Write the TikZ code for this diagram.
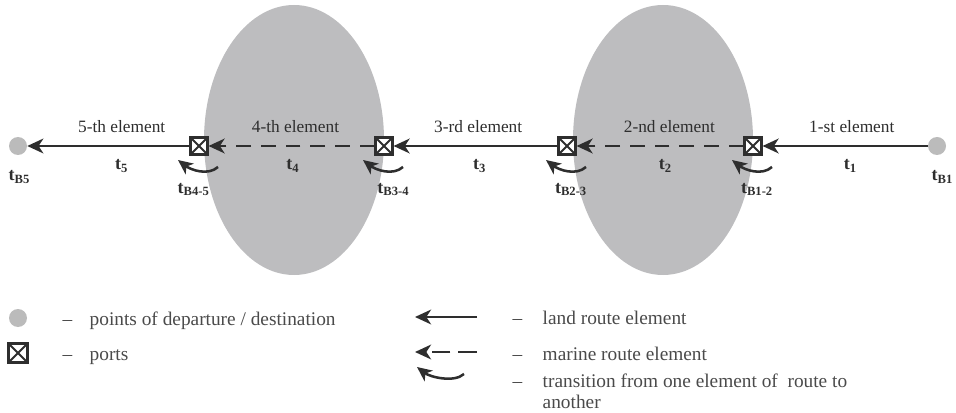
\documentclass[tikz,border=0pt]{standalone}
\usepackage{fontspec}
\setmainfont{Liberation Serif}
\usetikzlibrary{positioning,arrows.meta,calc}

\definecolor{seagray}{HTML}{BDBDBF}
\definecolor{dotgray}{HTML}{BBBBBB}
\definecolor{ink}{HTML}{2E2E2E}
\definecolor{legendink}{HTML}{4A4A4A}

\tikzset{
  port/.style={draw=ink, line width=1.8pt, fill=white, inner sep=0pt, minimum size=12.5pt,
    path picture={\draw[ink, line width=1.5pt]
      (path picture bounding box.north west) -- (path picture bounding box.south east)
      (path picture bounding box.north east) -- (path picture bounding box.south west);}},
  point/.style={circle, fill=dotgray, inner sep=0pt, minimum size=13.5pt},
  land/.style={draw=ink, line width=2pt, -{Stealth[length=12pt,width=11pt,inset=3.5pt]}},
  marine/.style={land, dash pattern=on 11pt off 7.5pt},
  trans/.style={draw=ink, line width=1.9pt, -{Stealth[length=11pt,width=10pt,inset=3pt]}},
  elem/.style={text=ink, font=\fontsize{13}{15}\selectfont},
  time/.style={text=ink, font=\fontsize{13.5}{15}\selectfont\bfseries},
  legend/.style={text=legendink, font=\fontsize{14.5}{17}\selectfont, anchor=base west},
}

\begin{document}
\begin{tikzpicture}[x=0.75pt, y=-0.75pt]
  \useasboundingbox (0,0) rectangle (956,413);

  % seas
  \fill[seagray] (294,140) ellipse [x radius=90, y radius=135];
  \fill[seagray] (663,140) ellipse [x radius=90, y radius=135];

  % points and ports
  \node[point] (c5) at (18,146) {};
  \node[port] (p45) at (199,146) {};
  \node[port] (p34) at (384,146) {};
  \node[port] (p23) at (567,146) {};
  \node[port] (p12) at (753,146) {};
  \node[point] (c1) at (937,146) {};

  % route elements
  \draw[land] (c1) -- (p12)
    node[midway, above=6pt, xshift=5pt, elem] {1-st element}
    node[midway, below=6pt, xshift=4pt, time] {t\textsubscript{1}};
  \draw[marine] (p12) -- (p23)
    node[midway, above=6pt, xshift=7pt, elem] {2-nd element}
    node[midway, below=6pt, xshift=4pt, time] {t\textsubscript{2}};
  \draw[land] (p23) -- (p34)
    node[midway, above=6pt, xshift=2pt, elem] {3-rd element}
    node[midway, below=6pt, xshift=3pt, time] {t\textsubscript{3}};
  \draw[marine] (p34) -- (p45)
    node[midway, above=6pt, xshift=3pt, elem] {4-th element}
    node[midway, below=6pt, xshift=1pt, time] {t\textsubscript{4}};
  \draw[land] (p45) -- (c5)
    node[midway, above=6pt, xshift=10pt, elem] {5-th element}
    node[midway, below=6pt, xshift=10pt, time] {t\textsubscript{5}};

  % transitions at the ports
  \foreach \p in {p12,p23,p34,p45}
    \draw[trans] ([shift={(19,21)}]\p.center) .. controls +(-10,9) and +(13,10) .. ([shift={(-21,14)}]\p.center);

  % times
  \node[time] (tb5) [below=8pt of c5, xshift=1pt] {t\textsubscript{B5}};
  \node[time] (tb1) [below=8pt of c1, xshift=4pt] {t\textsubscript{B1}};
  \node[time] (tb45) [below=17pt of p45, xshift=-4pt] {t\textsubscript{B4-5}};
  \node[time] (tb34) [below=17pt of p34, xshift=7pt] {t\textsubscript{B3-4}};
  \node[time] (tb23) [below=17pt of p23, xshift=3pt] {t\textsubscript{B2-3}};
  \node[time] (tb12) [below=17pt of p12, xshift=3pt] {t\textsubscript{B1-2}};

  % legend
  \node[point] (lpoint) at (18,318) {};
  \node[port, minimum size=14pt] (lport) at (18,353) {};
  \node[legend] (dpoint) at (58,325) {--};
  \node[legend] (dport) at (58,360) {--};
  \node[legend] (tpoint) at (85,325) {points of departure / destination};
  \node[legend] (tport) at (85,360) {ports};

  \coordinate (lland1) at (477,317);
  \coordinate (lland2) at (415,317);
  \coordinate (lsea1) at (477,352);
  \coordinate (lsea2) at (415,352);
  \coordinate (ltrans1) at (464,374);
  \coordinate (ltrans2) at (417,367);
  \draw[land] (lland1) -- (lland2);
  \draw[marine, dash pattern=on 14pt off 6pt] (lsea1) -- (lsea2);
  \draw[trans] (ltrans1) .. controls +(-10,9) and +(13,10) .. (ltrans2);

  \node[legend] (dland) at (508,324) {--};
  \node[legend] (dsea) at (508,360) {--};
  \node[legend] (dtrans) at (508,387) {--};
  \node[legend] (tland) at (538,324) {land route element};
  \node[legend] (tsea) at (538,360) {marine route element};
  \node[legend] (ttrans) at (538,387) {transition from one element of \ route to};
  \node[legend] (ttrans2) at (538,408) {another};
\end{tikzpicture}
\end{document}
